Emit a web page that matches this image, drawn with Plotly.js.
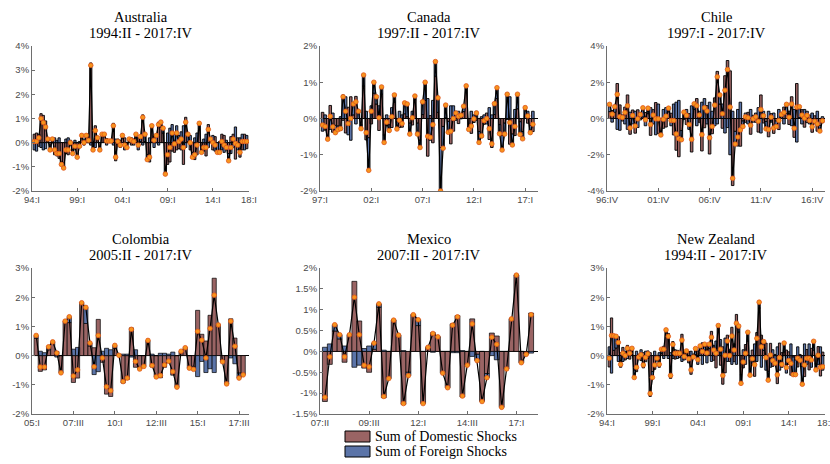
<!DOCTYPE html>
<html><head><meta charset="utf-8">
<script src="https://cdn.plot.ly/plotly-3.0.1.min.js"></script>
<style>html,body{margin:0;padding:0;background:#fff}#chart{width:830px;height:464px}</style>
</head><body><div id="chart"></div>
<script>
// ---------------- DATA (percent) ----------------
var countries = ["Australia","Canada","Chile","Colombia","Mexico","New Zealand"];
var periods = ["1994:II - 2017:IV","1997:II - 2017:IV","1997:I - 2017:IV","2005:II - 2017:IV","2007:II - 2017:IV","1994:II - 2017:IV"];
var starts = [[1994,2],[1997,2],[1997,1],[2005,2],[2007,2],[1994,2]];
var seriesNames = ["Sum of Domestic Shocks","Sum of Foreign Shocks"];

// total (sum of shocks) and foreign component; domestic = total - foreign
var ausTotal = [0.05,0.05,0.2,1.0,0.83,0.65,0.15,-0.3,0.15,-0.3,-0.45,-0.45,-0.9,-1.05,-0.3,-0.3,0.0,-0.45,-0.15,-0.6,-0.15,0.3,0.0,0.3,0.1,3.2,-0.3,0.5,0.2,-0.3,0.35,0.35,0.07,0.07,0.07,0.7,-0.6,0.05,-0.1,0.3,-0.1,-0.2,0.15,0.1,0.05,0.35,-0.1,0.25,1.05,0.35,-0.7,-0.6,0.7,0.1,0.3,0.75,0.85,0.6,-1.3,-0.5,-0.2,0.4,-0.05,0.4,0.05,0.15,-0.2,0.85,0.35,0.0,-0.6,-0.5,-0.1,0.8,-0.4,-0.2,-0.2,0.55,0.15,0.0,-0.1,-0.4,-0.4,0.05,-0.1,-0.2,-0.75,-0.2,0.15,-0.03,-0.1,-0.4,0.05,0.05,0.05];
var ausForeign = [-0.3,-0.35,0.35,-0.2,-0.3,-0.25,0.1,-0.2,0.15,0.2,0.1,0.2,-0.1,-0.2,0.15,0.2,0.1,-0.15,0.1,-0.1,0.05,0.1,-0.1,0.05,0.1,-0.1,-0.15,-0.2,0.1,-0.1,0.05,0.1,-0.1,0.05,0.05,-0.1,0.15,-0.1,-0.2,0.1,-0.3,-0.15,0.1,0.2,-0.1,0.15,-0.3,0.2,-0.1,0.3,-0.2,0.2,0.1,-0.2,0.3,-0.1,0.2,0.2,-0.2,0.4,0.6,0.75,0.35,0.7,0.3,0.45,0.7,-0.2,0.3,0.3,-0.2,0.2,0.4,0.25,-0.1,0.15,0.35,-0.2,0.1,0.3,-0.35,-0.4,-0.45,-0.3,-0.4,0.1,-0.3,-0.45,-0.2,0.65,-0.3,0.2,0.35,-0.3,0.3];

var canTotal = [-0.18,-0.22,-0.57,0.06,-0.23,-0.39,-0.31,-0.28,0.6,0.2,-0.14,0.0,0.4,0.46,0.2,-0.28,1.2,-0.39,-1.43,0.2,1.0,0.6,0.02,0.87,-0.66,-0.1,-0.33,0.05,0.65,-0.29,-0.05,-0.14,0.43,0.4,-0.43,0.02,0.62,-0.43,-0.8,0.46,1.0,-0.49,-0.52,-0.17,1.57,0.57,-2.0,-0.82,0.37,-0.38,-0.35,0.0,0.15,0.06,0.09,0.34,0.9,-0.3,-0.21,-0.01,0.15,-0.66,-0.48,-0.06,0.0,-0.28,-0.7,0.41,0.85,-0.42,-0.87,-0.43,0.67,-0.11,-0.73,-0.22,0.67,-0.44,-0.56,0.3,0.07,-0.39,-0.16];
var canForeign = [-0.35,0.1,-0.05,-0.3,0.15,-0.2,-0.1,0.05,0.65,0.6,-0.45,-0.6,0.3,-0.15,0.2,-0.1,0.3,0.2,-0.9,0.35,0.3,0.2,0.35,0.2,-0.2,0.1,-0.15,0.3,0.2,-0.2,0.2,0.1,0.3,0.35,-0.3,0.2,0.1,-0.3,-0.2,0.35,0.5,0.55,-0.6,0.5,0.4,0.4,-1.2,-0.6,0.35,-0.3,0.35,0.35,0.2,0.2,0.1,0.15,0.1,-0.1,0.2,0.1,0.2,-0.3,0.05,0.1,-0.15,0.3,0.1,0.3,0.3,-0.25,-0.4,-0.3,0.7,0.6,-0.3,0.25,0.4,-0.35,-0.2,0.3,0.2,-0.2,0.2];

var chlTotal = [0.78,0.24,0.65,1.33,0.1,0.06,0.33,0.7,-0.52,0.17,-0.41,-0.02,0.22,0.59,-0.07,0.57,-0.33,0.19,-0.02,-0.02,-0.91,-0.04,0.13,0.57,-0.11,-0.11,-0.85,-1.11,-1.17,0.35,0.17,-0.33,-1.15,0.81,0.7,0.19,-0.89,0.59,0.41,-1.06,-0.44,0.74,2.3,1.3,0.26,1.56,2.7,0.63,-3.3,-1.41,-1.02,-0.63,-0.44,0.09,0.04,-0.37,-0.02,0.09,-0.15,0.5,0.15,-0.57,-0.61,0.07,-0.52,-0.44,-0.11,0.22,0.33,0.78,0.07,0.8,-0.54,0.63,0.65,0.19,0.02,0.17,-0.11,-0.46,-0.15,-0.3,-0.69,-0.13];
var chlForeign = [0.4,-0.2,0.3,-0.6,-0.65,0.2,-0.3,-0.6,0.35,-0.3,0.4,-0.5,0.3,0.5,-0.4,0.3,0.6,-0.3,-0.9,0.8,-0.2,0.5,0.6,0.2,-0.4,0.8,0.9,1.0,-0.5,0.4,0.5,-0.6,0.7,0.3,-0.4,0.4,0.9,1.1,-0.3,0.9,0.4,-0.4,-0.3,0.5,0.8,-0.8,-0.5,-2.0,0.4,-0.7,0.5,0.9,-0.3,0.3,-0.3,0.5,-0.2,0.3,0.6,-0.8,0.4,-0.4,0.4,-0.2,0.3,-0.3,0.5,0.2,-0.3,0.5,0.4,-0.4,0.5,-1.3,0.6,-0.3,0.5,0.4,-0.3,0.3,-0.3,0.4,-0.3,0.1];

var colTotal = [0.69,-0.39,-0.39,0.3,0.47,0.09,-0.59,1.18,1.33,-0.7,-0.49,1.81,1.65,0.43,-0.38,0.69,-0.08,-1.07,-1.2,0.35,0.01,-0.89,-0.77,0.9,-0.2,-0.46,-0.37,0.52,-0.34,-0.73,-0.68,-0.32,-0.19,-0.55,-1.08,0.15,0.27,-0.43,-0.47,0.83,0.53,-0.08,0.93,2.07,1.05,-0.21,-0.97,1.18,0.32,-0.77,-0.66];
var colForeign = [0.1,0.15,0.1,0.1,0.05,-0.05,0,0,0.2,0.22,0.28,0,0.55,0.1,-0.65,-0.55,0.15,0.25,0.2,0.1,0,0.05,0.05,-0.05,0.2,0,0,0.05,0.05,0,0.08,0.08,0.05,0.12,0,0,0,0,-0.1,-0.72,-0.2,-0.58,-0.45,-0.58,0,-0.05,0,-0.08,-0.28,-0.17,-0.05];

var mexTotal = [-1.1,-0.13,0.64,0.4,-0.13,0.4,1.3,0.4,-0.33,-0.37,0.2,1.14,-1.08,-0.65,0.75,0.39,-1.25,-0.58,0.88,0.76,-1.25,0.1,0.43,0.35,-0.52,-0.87,0.63,0.83,-1.07,-0.33,0.66,-0.22,-1.2,-0.63,0.34,0.17,-1.34,-0.42,0.78,1.83,-0.27,-0.07,0.88];
var mexForeign = [0.1,0.18,0.15,0.1,0.13,0,-0.38,-0.33,0.07,0.13,0.15,0.08,0.03,0,0,0,0.02,-0.08,0,0.14,0,0,-0.02,0,0,0,-0.03,-0.03,0.02,0,-0.12,-0.15,0,-0.1,-0.1,-0.2,0,0,0,0,0,-0.03,-0.04];

var nzlTotal = [-0.09,0.69,0.68,0.66,0.45,-0.3,0.08,0.0,0.25,0.08,0.25,-0.75,-0.4,-0.05,0.03,-0.32,-0.06,0.06,-1.3,-0.75,-0.32,-0.09,-0.3,0.22,0.22,0.88,0.66,-0.68,0.38,0.08,0.08,0.08,0.53,-0.03,0.16,-0.11,-0.49,-0.05,0.24,-0.14,0.33,0.14,0.39,0.09,0.39,0.63,0.19,0.08,1.03,0.22,-0.68,0.01,0.5,0.0,0.67,0.19,1.11,1.01,-0.95,-0.22,0.08,0.8,-0.67,-0.11,-0.31,0.59,1.83,0.3,0.48,-0.07,-0.84,0.02,-0.17,-0.26,-0.66,-0.07,-0.3,0.43,-0.41,-0.17,-0.27,-0.65,-0.65,-0.09,-0.16,-0.98,-0.32,-0.09,-0.09,-0.15,0.49,-0.49,0.01,-0.4,-0.38];
var nzlForeign = [0.3,-0.6,0.5,0.4,-0.2,0.1,-0.2,0.15,-0.1,0.2,0.1,-0.25,0.15,-0.1,0.2,0.1,0.15,-0.1,0.1,-0.2,0.15,-0.1,0.1,0.15,-0.1,0.05,-0.1,0.1,-0.1,0.2,-0.1,0.15,-0.2,-0.15,0.1,-0.25,0.15,-0.1,0.2,-0.3,0.15,-0.3,0.2,-0.25,0.15,-0.2,0.35,0.5,0.1,0.55,0.3,0.6,-0.2,0.2,-0.3,0.4,-0.3,0.2,-0.3,0.2,-0.3,0.3,-0.2,-0.3,0.4,-0.2,0.2,-0.4,0.3,-0.5,-0.3,-0.4,0.2,-0.3,0.3,-0.5,-0.4,0.3,-0.6,-0.3,0.4,-0.6,-0.5,0.3,-0.2,-0.6,0.4,-0.3,0.4,-0.4,0.3,-0.2,-0.3,0.3,-0.5];

// tick labels
var xTickVals = [
  [1994,1999,2004,2009,2014,2018],
  [1997,2002,2007,2012,2017],
  [1996.75,2001.75,2006.75,2011.75,2016.75],
  [2005,2007.5,2010,2012.5,2015,2017.5],
  [2007,2009.5,2012,2014.5,2017],
  [1994,1999,2004,2009,2014,2018]
];
var xTickText = [
  ["94:I","99:I","04:I","09:I","14:I","18:I"],
  ["97:I","02:I","07:I","12:I","17:I"],
  ["96:IV","01:IV","06:IV","11:IV","16:IV"],
  ["05:I","07:III","10:I","12:III","15:I","17:III"],
  ["07:II","09:III","12:I","14:III","17:I"],
  ["94:I","99:I","04:I","09:I","14:I","18:I"]
];
var yTickVals = [
  [-2,-1,0,1,2,3,4],
  [-2,-1,0,1,2],
  [-4,-2,0,2,4],
  [-2,-1,0,1,2,3],
  [-1.5,-1,-0.5,0,0.5,1,1.5,2],
  [-2,-1,0,1,2,3]
];

var totals = [ausTotal,canTotal,chlTotal,colTotal,mexTotal,nzlTotal];
var foreigns = [ausForeign,canForeign,chlForeign,colForeign,mexForeign,nzlForeign];

// ---------------- LAYOUT GEOMETRY (px) ----------------
var W = 830, H = 464;
var colsPx = [[32,249],[320,538],[607,825]];
var rowsPx = [[46,191],[268,414]];
var xRanges = [[1994,2018],[1997,2018.25],[1996.75,2018],[2005,2018.1],[2007,2018.1],[1994,2018]];
var edgeW = [0.9,0.9,0.9,0.7,0.7,0.9];
function px(x){return x/W;}
function py(y){return 1-y/H;}

var DOM = '#9a6464', FOR = '#5b74a8';
var traces = [];
var layout = {
  width: W, height: H, margin:{l:0,r:0,t:0,b:0},
  paper_bgcolor:'#fff', plot_bgcolor:'#fff',
  barmode:'relative', bargap:0, showlegend:false,
  annotations:[], shapes:[]
};
var axisCol = '#6e6e6e';
var tickFont = {family:'Liberation Sans, Arial, sans-serif', size:9.5, color:'#4a4a4a'};
var titleFont = {family:'Liberation Serif, DejaVu Serif, serif', size:14.5, color:'#000'};

for (var i=0;i<6;i++){
  var n = totals[i].length;
  var xs = [], dom = [];
  for (var k=0;k<n;k++){
    var qi = (starts[i][1]-1)+k;
    xs.push(starts[i][0] + qi/4);
    dom.push(+(totals[i][k]-foreigns[i][k]).toFixed(3));
  }
  var ax = (i===0)?'':String(i+1);
  var xa = 'x'+ax, ya = 'y'+ax;
  traces.push({type:'bar', x:xs, y:dom, xaxis:xa, yaxis:ya, width:0.25, name:seriesNames[0],
    marker:{color:DOM, line:{color:'#000', width:edgeW[i]}}});
  traces.push({type:'bar', x:xs, y:foreigns[i], xaxis:xa, yaxis:ya, width:0.25, name:seriesNames[1],
    marker:{color:FOR, line:{color:'#000', width:edgeW[i]}}});
  traces.push({type:'scatter', mode:'lines+markers', x:xs, y:totals[i], xaxis:xa, yaxis:ya, name:'Total',
    line:{color:'#000', width:1.2},
    marker:{color:'#f7941d', size:4.6, line:{color:'#e0561b', width:0.8}}});

  var c = colsPx[i%3], r = rowsPx[Math.floor(i/3)];
  var yt = yTickVals[i];
  layout['xaxis'+ax] = {domain:[px(c[0]),px(c[1])], anchor:ya, range:xRanges[i],
    tickmode:'array', tickvals:xTickVals[i], ticktext:xTickText[i], ticklabeloverflow:'allow',
    showline:true, linecolor:axisCol, linewidth:1, ticks:'inside', ticklen:3, tickcolor:axisCol,
    showgrid:false, zeroline:false, tickfont:tickFont, fixedrange:true};
  layout['yaxis'+ax] = {domain:[py(r[1]),py(r[0])], anchor:xa, range:[yt[0],yt[yt.length-1]],
    tickmode:'array', tickvals:yt, ticktext:yt.map(function(v){return String(v)+'%';}),
    showline:true, linecolor:axisCol, linewidth:1, ticks:'inside', ticklen:3, tickcolor:axisCol,
    showgrid:false, zeroline:true, zerolinecolor:'#000', zerolinewidth:1.5, tickfont:tickFont, fixedrange:true};
  var cx = px((c[0]+c[1])/2);
  layout.annotations.push({xref:'paper', yref:'paper', x:cx, y:py(r[0]-29), text:countries[i],
    showarrow:false, xanchor:'center', yanchor:'middle', font:titleFont});
  layout.annotations.push({xref:'paper', yref:'paper', x:cx, y:py(r[0]-13), text:periods[i],
    showarrow:false, xanchor:'center', yanchor:'middle', font:titleFont});
}

// legend (drawn manually to match patch shape)
var legRows = [[431,442,DOM],[446,457,FOR]];
for (var j=0;j<2;j++){
  layout.shapes.push({type:'rect', xref:'paper', yref:'paper', x0:px(345), x1:px(370),
    y0:py(legRows[j][1]), y1:py(legRows[j][0]), fillcolor:legRows[j][2], line:{color:'#000', width:1}});
  layout.annotations.push({xref:'paper', yref:'paper', x:px(373), y:py((legRows[j][0]+legRows[j][1])/2),
    text:seriesNames[j], showarrow:false, xanchor:'left', yanchor:'middle',
    font:{family:'Liberation Serif, DejaVu Serif, serif', size:14, color:'#000'}});
}

Plotly.newPlot('chart', traces, layout, {displayModeBar:false, staticPlot:true});
</script></body></html>
